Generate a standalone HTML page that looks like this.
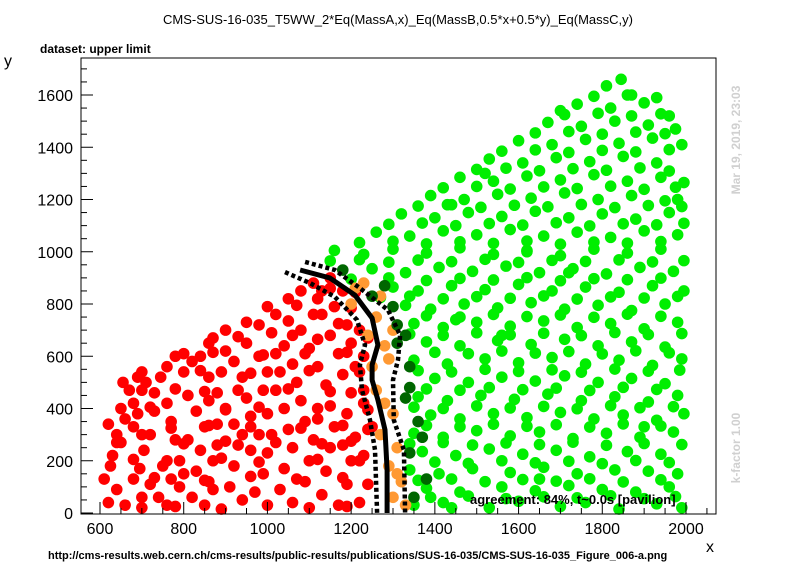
<!DOCTYPE html>
<html><head><meta charset="utf-8"><style>
html,body{margin:0;padding:0;background:#fff;}
svg{display:block;font-family:"Liberation Sans",sans-serif;}
</style></head><body>
<svg id="c" width="796" height="572">
<rect x="0" y="0" width="796" height="572" fill="#fff"/>
<text x="398" y="24" font-size="13" text-anchor="middle">CMS-SUS-16-035_T5WW_2*Eq(MassA,x)_Eq(MassB,0.5*x+0.5*y)_Eq(MassC,y)</text>
<text x="40" y="53" font-size="12" font-weight="bold">dataset: upper limit</text>
<text x="4" y="66" font-size="16">y</text>
<text x="706" y="552" font-size="16">x</text>
<text x="740" y="140" font-size="12" font-weight="bold" fill="#d0d0d0" text-anchor="middle" transform="rotate(-90 740 140)">Mar 19, 2019, 23:03</text>
<text x="740" y="448" font-size="12" font-weight="bold" fill="#d0d0d0" text-anchor="middle" transform="rotate(-90 740 448)">k-factor 1.00</text>
<text x="48" y="559" font-size="11" font-weight="bold">http://cms-results.web.cern.ch/cms-results/public-results/publications/SUS-16-035/CMS-SUS-16-035_Figure_006-a.png</text>
<g id="marks"></g>
<g id="axes"></g>
<text x="470" y="504" font-size="13" font-weight="bold">agreement: 84%, t~0.0s [pavilion]</text>
</svg>
<script>
const xTicks=[600,800,1000,1200,1400,1600,1800,2000];
const yTicks=[0,200,400,600,800,1000,1200,1400,1600];
const redPts=[[620,340],[630,220],[625,180],[640,300],[650,270],[660,360],[670,470],[655,500],[680,420],[690,380],[700,300],[705,240],[695,170],[640,90],[620,40],[660,30],[680,130],[720,110],[740,60],[760,30],[710,500],[730,460],[745,520],[760,420],[770,350],[780,280],[790,200],[800,150],[790,100],[820,60],[850,30],[860,120],[870,200],[880,260],[850,330],[830,390],[810,450],[800,540],[820,580],[840,600],[860,520],[880,460],[900,400],[920,340],[930,260],[920,180],[910,100],[940,50],[970,80],[990,150],[1000,230],[980,300],[960,370],[950,440],[940,520],[920,580],[900,620],[950,650],[980,600],[1000,540],[1020,470],[1040,400],[1050,320],[1060,250],[1040,170],[1030,90],[1060,40],[1090,120],[1100,200],[1110,280],[1090,350],[1080,430],[1070,500],[1060,570],[1040,640],[1010,690],[1080,700],[1100,630],[1120,560],[1140,490],[1150,410],[1160,330],[1150,250],[1140,160],[1130,70],[1170,30],[1190,110],[1200,200],[1210,290],[1190,380],[1200,460],[1180,530],[1170,610],[1150,680],[1130,760],[1120,820],[1160,790],[1190,720],[1200,650],[1210,560],[1230,420],[1240,320],[1230,220],[1240,110],[1220,40],[1110,880],[1080,850],[1050,820],[1020,760],[980,720],[720,300],[750,180],[770,130],[840,240],[860,430],[890,540],[1000,380],[1110,760],[1180,850],[700,60],[1010,300],[960,240],[880,340],[830,160],[1230,600],[1220,700],[1060,680],[900,700],[860,650],[760,560],[730,390],[780,600],[690,520],[1150,860],[1020,610],[940,300],[810,280],[1120,360],[1180,260],[990,470],[870,90]];
const redPts2=[[700,20],[780,25],[890,15],[1000,30],[1100,20],[1190,25],[610,130],[730,135],[850,125],[960,140],[1070,130],[1180,135],[680,205],[760,200],[890,210],[980,195],[1120,205],[1220,200],[640,270],[800,265],[900,275],[1020,270],[1130,265],[1200,275],[680,330],[770,325],[860,335],[960,330],[1080,325],[1180,335],[1250,330],[650,400],[720,405],[900,395],[980,405],[1120,400],[1240,395],[700,470],[780,475],[850,465],[930,470],[1050,475],[1150,465],[1230,470],[700,540],[840,545],[960,535],[1030,540],[1100,545],[1220,540],[800,610],[870,615],[990,605],[1090,610],[1190,615],[870,670],[930,675],[1120,665],[1240,670],[950,730],[1050,735],[1170,725],[1000,790],[1070,795],[1200,785],[1130,850],[1210,845],[1150,900]];
const greenPts=[[1350,30],[1420,40],[1530,20],[1600,45],[1700,25],[1760,40],[1840,15],[1930,35],[1990,20],[1380,95],[1460,80],[1560,100],[1640,85],[1720,105],[1800,90],[1880,80],[1960,100],[1340,165],[1410,150],[1490,170],[1580,155],[1660,175],[1740,150],[1830,165],[1910,160],[1980,150],[1370,235],[1450,220],[1530,245],[1610,225],[1690,240],[1770,215],[1860,235],[1940,225],[1350,305],[1420,290],[1500,315],[1580,295],[1650,310],[1730,285],[1810,305],[1890,290],[1970,310],[1390,375],[1460,360],[1540,380],[1620,365],[1700,385],[1780,360],[1850,375],[1930,355],[1995,380],[1360,445],[1430,430],[1510,450],[1590,435],[1670,455],[1750,430],[1830,445],[1910,425],[1980,450],[1400,515],[1480,500],[1560,520],[1640,505],[1710,525],[1790,500],[1870,515],[1950,495],[1350,585],[1430,570],[1520,590],[1600,575],[1680,595],[1760,570],[1840,585],[1920,565],[1990,590],[1380,655],[1460,640],[1550,660],[1630,645],[1710,665],[1790,640],[1870,655],[1950,635],[1350,725],[1420,710],[1500,730],[1580,715],[1660,735],[1740,710],[1820,725],[1900,705],[1980,730],[1330,795],[1390,780],[1470,800],[1550,785],[1630,805],[1710,780],[1790,795],[1870,775],[1950,800],[1300,865],[1360,850],[1440,870],[1520,855],[1600,875],[1680,850],[1760,865],[1840,845],[1920,870],[1995,850],[1250,935],[1330,920],[1410,940],[1490,925],[1570,945],[1650,920],[1730,935],[1810,915],[1890,940],[1970,925],[1160,1005],[1230,990],[1300,1010],[1380,995],[1460,1015],[1540,990],[1620,1005],[1700,985],[1780,1010],[1860,995],[1940,1010],[1260,1075],[1340,1060],[1420,1080],[1500,1065],[1580,1085],[1660,1060],[1740,1075],[1820,1055],[1900,1080],[1980,1065],[1320,1145],[1400,1130],[1480,1150],[1560,1135],[1640,1155],[1720,1130],[1800,1145],[1880,1125],[1960,1150],[1390,1215],[1470,1200],[1550,1220],[1630,1205],[1710,1225],[1790,1200],[1870,1215],[1950,1195],[1460,1285],[1540,1270],[1620,1290],[1700,1275],[1780,1295],[1860,1270],[1940,1285],[1995,1265],[1530,1355],[1610,1340],[1690,1360],[1770,1345],[1850,1365],[1930,1340],[1600,1425],[1680,1410],[1760,1430],[1840,1415],[1920,1435],[1990,1410],[1670,1495],[1750,1480],[1830,1500],[1910,1485],[1975,1470],[1740,1565],[1820,1550],[1900,1570],[1810,1635],[1845,1660],[1870,1600],[1960,1520],[1700,1540],[1520,1300],[1440,1180],[1980,1200],[1440,20],[1650,130],[1900,330],[1560,680],[1720,920],[1450,740],[1620,1000]];
const greenPts2=[[1390,60],[1480,65],[1570,55],[1660,62],[1740,58],[1820,66],[1900,55],[1975,63],[1360,125],[1440,130],[1520,120],[1610,128],[1690,122],[1770,131],[1850,119],[1940,127],[1400,195],[1480,190],[1560,200],[1640,192],[1720,198],[1800,189],[1880,201],[1960,193],[1340,265],[1420,270],[1490,260],[1570,268],[1650,262],[1730,271],[1810,259],[1900,266],[1990,262],[1380,335],[1460,330],[1540,340],[1620,332],[1690,338],[1770,329],[1850,341],[1940,333],[1350,405],[1420,400],[1500,410],[1580,402],[1660,408],[1740,399],[1820,411],[1890,403],[1970,407],[1380,475],[1460,470],[1530,480],[1610,472],[1690,478],[1770,469],[1850,481],[1930,473],[1360,545],[1440,540],[1520,550],[1600,542],[1680,548],[1750,539],[1830,551],[1910,543],[1985,547],[1400,615],[1480,610],[1560,620],[1640,612],[1720,618],[1800,609],[1880,621],[1960,613],[1340,685],[1420,680],[1500,690],[1580,682],[1660,688],[1750,679],[1830,691],[1910,683],[1990,687],[1380,755],[1460,750],[1540,760],[1620,752],[1700,758],[1780,749],[1860,761],[1940,753],[1270,825],[1340,830],[1420,820],[1500,828],[1580,822],[1660,831],[1740,819],[1820,827],[1900,823],[1980,829],[1200,895],[1290,900],[1380,890],[1460,898],[1540,892],[1620,901],[1700,889],[1780,897],[1860,893],[1940,899],[1150,965],[1220,970],[1290,960],[1360,968],[1440,962],[1520,971],[1600,959],[1680,967],[1760,963],[1840,969],[1920,961],[1995,966],[1220,1035],[1300,1040],[1380,1030],[1460,1038],[1540,1032],[1620,1041],[1700,1029],[1780,1037],[1860,1033],[1940,1039],[1290,1105],[1370,1110],[1450,1100],[1530,1108],[1610,1102],[1690,1111],[1770,1099],[1850,1107],[1930,1103],[1995,1109],[1360,1175],[1430,1180],[1510,1170],[1590,1178],[1670,1172],[1750,1181],[1830,1169],[1910,1177],[1990,1173],[1420,1245],[1500,1250],[1580,1240],[1660,1248],[1740,1242],[1820,1251],[1900,1239],[1975,1247],[1500,1315],[1570,1320],[1650,1310],[1730,1318],[1810,1312],[1890,1321],[1960,1309],[1560,1385],[1640,1390],[1720,1380],[1800,1388],[1880,1382],[1960,1391],[1640,1455],[1720,1460],[1800,1450],[1880,1458],[1950,1452],[1710,1525],[1790,1530],[1870,1520],[1940,1528],[1780,1595],[1860,1600],[1930,1590]];
const orangePts=[[1230,880],[1200,800],[1260,750],[1240,680],[1280,640],[1250,560],[1290,590],[1260,470],[1300,380],[1270,300],[1310,250],[1290,180],[1320,120],[1300,60],[1330,30],[1210,860],[1270,830],[1300,700],[1280,420],[1310,150]];
const darkPts=[[1180,930],[1250,830],[1300,790],[1310,720],[1330,680],[1310,650],[1340,560],[1340,480],[1330,440],[1360,350],[1370,290],[1340,230],[1380,130],[1350,60],[1280,870]];
const solidLine=[[1078,930],[1149,900],[1209,834],[1250,746],[1264,643],[1250,567],[1250,509],[1264,433],[1281,318],[1286,165],[1286,0]];
const innerLine=[[1042,922],[1102,880],[1161,827],[1214,739],[1233,643],[1221,567],[1226,471],[1245,356],[1257,241],[1262,0]];
const outerLine=[[1090,961],[1161,930],[1221,861],[1288,777],[1317,681],[1312,586],[1300,509],[1302,356],[1326,241],[1329,0]];

const L=81,R=716,T=58,B=514;
const X0=600,XPX0=100,XS=(686-100)/1400;
const YPX0=513,YS=(513-95)/1600;
function sx(v){return XPX0+(v-X0)*XS;}
function sy(v){return YPX0-v*YS;}
const NS="http://www.w3.org/2000/svg";
function mk(tag,attrs,parent){const e=document.createElementNS(NS,tag);for(const k in attrs)e.setAttribute(k,attrs[k]);parent.appendChild(e);return e;}
const marks=document.getElementById('marks'),axes=document.getElementById('axes');
function drawPts(pts,color,name){
  pts.forEach(p=>{
    const c=mk('circle',{cx:sx(p[0]),cy:sy(p[1]),r:5.8,fill:color},marks);
    
    
  });
}
drawPts(redPts,'#ff0000','red-point');
drawPts(redPts2,'#ff0000','red-point');
drawPts(greenPts,'#00ee00','green-point');
drawPts(greenPts2,'#00ee00','green-point');
drawPts(orangePts,'#ff9933','orange-point');
drawPts(darkPts,'#006600','dark-green-point');
function path(pts){return pts.map((p,i)=>(i?'L':'M')+sx(p[0]).toFixed(1)+','+sy(p[1]).toFixed(1)).join(' ');}
let l=mk('path',{d:path(solidLine),fill:'none',stroke:'#000','stroke-width':5},marks);


l=mk('path',{d:path(innerLine),fill:'none',stroke:'#000','stroke-width':4.5,'stroke-dasharray':'4,3'},marks);


l=mk('path',{d:path(outerLine),fill:'none',stroke:'#000','stroke-width':4.5,'stroke-dasharray':'4,3'},marks);


const fr=mk('rect',{x:L,y:T,width:R-L,height:B-T,fill:'none',stroke:'#000','stroke-width':1},axes);


for(let v=550;v<=2050;v+=50){
  const px=sx(v);if(px<L||px>R)continue;
  const len=(v%200===0)?12:6;
  mk('line',{x1:px,y1:B,x2:px,y2:B-len,stroke:'#000'},axes);
}
xTicks.forEach(v=>{
  const t=mk('text',{x:sx(v),y:534,'font-size':16,'text-anchor':'middle'},axes);
  t.textContent=v;
  
  
});
for(let v=0;v<=1750;v+=50){
  const py=sy(v);if(py<T||py>B)continue;
  const len=(v%200===0)?12:6;
  mk('line',{x1:L,y1:py,x2:L+len,y2:py,stroke:'#000'},axes);
}
yTicks.forEach(v=>{
  const t=mk('text',{x:73,y:sy(v)+6,'font-size':16,'text-anchor':'end'},axes);
  t.textContent=v;
  
  
});
</script>
</body></html>
